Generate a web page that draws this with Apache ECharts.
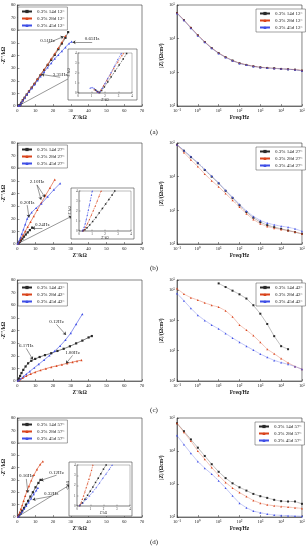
<!DOCTYPE html>
<html><head><meta charset="utf-8">
<script src="https://cdn.jsdelivr.net/npm/echarts@6/dist/echarts.min.js"></script>
<style>html,body{margin:0;padding:0;background:#fff}#c{width:308px;height:550px}</style>
</head><body><div id="c"></div>
<script>
// ---------- DATA ----------
const NAMES_A = ['0.3% 14d 12°','0.3% 28d 12°','0.3% 45d 12°'];
const NAMES_B = ['0.3% 14d 27°','0.3% 28d 27°','0.3% 45d 27°'];
const NAMES_C = ['0.3% 14d 42°','0.3% 28d 42°','0.3% 45d 42°'];
const NAMES_D = ['0.3% 14d 57°','0.3% 28d 57°','0.3% 45d 57°'];
const CAPTIONS = ['(a)','(b)','(c)','(d)'];

// Nyquist [Z'(kΩ), -Z''(kΩ)]
const NYQ_A_14 = [[0.6,0.2],[1.0,0.4],[1.4,0.6],[1.7,1.0],[2.2,2.5],[3.0,4.5],[4.0,6.5],[5.2,9],[6.5,11.5],[8,14.5],[9.6,17.5],[11.3,21],[13,24.5],[15,28.5],[17,32.5],[19,36.5],[21,40.5],[23,45],[25,49.5],[27,54],[28.5,58.5]];
const NYQ_A_28 = [[0.6,0.2],[1.0,0.4],[1.4,0.6],[1.7,1.0],[2.2,2.6],[3.0,4.6],[4.0,6.7],[5.2,9.2],[6.5,11.8],[8,14.8],[9.6,18],[11.3,21.5],[13,25],[15,29],[17,33],[19,37.5],[21,41.5],[23,46],[25,50.5],[27,55.5]];
const NYQ_A_45 = [[0.6,0.2],[1.0,0.4],[1.4,0.6],[1.7,1.0],[2.2,2.4],[3.0,4.3],[4.0,6.3],[5.2,8.8],[6.5,11.2],[8,14],[9.6,17],[11.3,20.2],[13,23.5],[15,27],[17,30.5],[19,34],[21,37.5],[23,40.5],[25,43.5],[27,46.5],[29,49.5],[30.5,51]];
const NYQ_B_14 = [[0.3,0.2],[0.8,0.8],[1.3,1.6],[2,2.8],[2.8,4.2],[3.7,5.8],[4.7,7.5],[5.8,9.2],[7,11],[8.3,13]];
const NYQ_B_28 = [[0.3,0.3],[0.8,1.2],[1.4,2.5],[2.2,4.5],[3.2,7],[4.4,10],[5.8,13.5],[7.4,17.5],[9.2,22],[11.2,27],[13.4,32.5],[15.8,38.5],[18.3,44.5],[21,51]];
const NYQ_B_45 = [[0.2,0.3],[0.6,1.2],[1.1,2.8],[1.7,5],[2.5,8],[3.4,11.5],[4.4,15.5],[5.5,20],[6.3,22],[8,25],[10.5,28.5],[13.5,32],[17,37.5],[20.5,43],[24,48]];
const NYQ_C_14 = [[0.3,0.5],[0.8,2],[1.5,4],[2.3,6.3],[3.3,8.8],[4.6,11.5],[6,14],[7.8,16],[10,17.5],[12.5,19],[15.5,20.5],[19,22],[22.5,23.8],[26,25.5],[29.5,27.5],[33,29.8],[36.5,32],[40,34.5],[41.8,35.6]];
const NYQ_C_28 = [[0.5,0.3],[1.5,1.2],[3,2.5],[5,4],[7.5,5.6],[10,7],[13,8.5],[16,9.8],[19,11],[22,12],[25,13],[28,14],[31,15],[33.5,15.8],[36,16.5]];
const NYQ_C_45 = [[0.3,0.3],[1,1],[2,2],[3.5,3.7],[5,5.5],[7,7.7],[9.5,10.5],[12,13.3],[15,16.7],[18,20.2],[21,23.8],[24,27.8],[27,32.5],[30,38],[33,45],[36.5,53]];
const NYQ_D_14 = [[0.4,0.4],[1,1.5],[1.8,3],[2.7,5],[3.7,7.3],[4.8,10],[6,13],[7.3,16.5],[8.7,20],[10.2,24],[11.8,27.5],[13,30]];
const NYQ_D_28 = [[0.3,0.5],[0.8,2],[1.4,4],[2,6.5],[2.7,9.5],[3.5,13],[4.4,17],[5.4,21],[6.5,25],[7.8,29.5],[9.3,34],[11,38.5],[12.8,42.5],[14.3,45]];
const NYQ_D_45 = [[0.4,0.3],[1,1.2],[1.8,2.6],[2.7,4.3],[3.8,6.5],[5,9],[6.3,11.8],[7.7,15],[9.2,18.5],[10.6,21.5],[11.5,23.5]];

// Insets (zoomed Nyquist near origin)
const INS_A_14 = [[1.3,0.3],[1.45,0.15],[1.6,0.05],[1.75,0.25],[1.95,0.6],[2.2,1.1],[2.45,1.6],[2.75,2.2],[3.05,2.8],[3.35,3.4],[3.6,3.95]];
const INS_A_28 = [[1.2,0.35],[1.4,0.15],[1.55,0.05],[1.7,0.3],[1.9,0.75],[2.15,1.3],[2.4,1.85],[2.65,2.45],[2.95,3.1],[3.25,3.75],[3.35,3.95]];
const INS_A_45 = [[0.9,0.5],[1.05,0.55],[1.2,0.45],[1.35,0.25],[1.45,0.1],[1.55,0.05],[1.65,0.2],[1.8,0.5],[2.0,0.95],[2.2,1.45],[2.45,2.05],[2.7,2.7],[2.95,3.35],[3.2,3.95]];
const INS_B_14 = [[0.3,0.02],[0.45,0.12],[0.62,0.32],[0.82,0.6],[1.05,0.95],[1.3,1.35],[1.55,1.8],[1.8,2.25],[2.05,2.7],[2.3,3.15],[2.55,3.6],[2.75,4.0]];
const INS_B_28 = [[0.3,0.02],[0.4,0.15],[0.52,0.4],[0.66,0.75],[0.8,1.15],[0.95,1.6],[1.1,2.05],[1.25,2.5],[1.4,3.0],[1.55,3.5],[1.7,4.0]];
const INS_B_45 = [[0.25,0.02],[0.32,0.15],[0.4,0.4],[0.48,0.75],[0.56,1.15],[0.64,1.6],[0.72,2.1],[0.8,2.6],[0.88,3.1],[0.96,3.6],[1.02,4.0]];
const INS_D_14 = [[0.2,0.05],[0.4,0.3],[0.6,0.65],[0.8,1.05],[1.0,1.45],[1.2,1.85],[1.4,2.3],[1.6,2.7],[1.8,3.15],[2.0,3.6],[2.2,4.0]];
const INS_D_28 = [[0.2,0.05],[0.3,0.3],[0.4,0.65],[0.5,1.0],[0.6,1.4],[0.7,1.8],[0.8,2.2],[0.9,2.6],[1.0,3.05],[1.1,3.5],[1.2,4.0]];
const INS_D_45 = [[0.2,0.05],[0.45,0.3],[0.7,0.65],[0.95,1.0],[1.2,1.4],[1.45,1.8],[1.7,2.25],[1.95,2.7],[2.2,3.15],[2.45,3.6],[2.65,4.0]];

// Bode |Z| (Ω·cm²) at these frequencies (Hz)
const FREQ = [0.1,0.215,0.464,1,2.15,4.64,10,21.5,46.4,100,215,464,1000,2150,4640,10000,21500,46400,100000];
const BODE_A_14 = [57500,35500,20900,12600,7940,5250,3720,2820,2240,1860,1660,1510,1410,1350,1320,1260,1230,1200,1120];
const BODE_A_28 = [59000,36000,21500,12900,8100,5300,3750,2850,2260,1880,1680,1530,1420,1370,1330,1280,1250,1210,1150];
const BODE_A_45 = [56000,35000,20500,12300,7800,5150,3650,2780,2200,1840,1640,1500,1400,1340,1310,1270,1240,1190,1110];
const BODE_B_14 = [89100,58900,38000,25100,15800,10000,6310,3800,2340,1410,891,603,447,363,316,282,251,224,200];
const BODE_B_28 = [89100,52500,31600,20000,12000,7590,5010,3160,2000,1260,794,537,398,331,295,269,251,229,200];
const BODE_B_45 = [89100,60300,39800,26300,16600,10500,6610,3980,2450,1510,955,661,501,417,372,339,316,282,240];
const BODE_C_14 = [null,null,null,null,null,null,166000,126000,95500,72400,52500,31600,16600,7590,3020,1410,1120,null,null];
const BODE_C_28 = [112000,74100,56200,46800,38000,31600,27500,20900,13200,7080,4790,3160,1910,1120,794,550,398,302,245];
const BODE_C_45 = [77600,44700,25100,14800,10000,7080,5250,3720,2630,1910,1410,1050,776,603,479,407,355,302,245];
const BODE_D_14 = [69200,39800,22400,12600,7080,3980,2340,1510,1050,794,631,501,427,380,331,302,295,295,251];
const BODE_D_28 = [69200,37200,20000,10000,5620,3160,1820,1120,759,550,417,316,263,234,219,209,200,191,182];
const BODE_D_45 = [29500,15800,8510,4790,3020,2000,1260,759,437,263,191,151,135,123,115,112,110,107,105];

// Frequency annotations: [text, textX, textY, arrowToX, arrowToY]
const ANN_A = [['0.51Hz',17,52,26,55],['0.65Hz',42,53,31,50.5],['3.35Hz',24,25,13.5,25]];
const ANN_B = [['2.10Hz',11,49,13.3,35],['2.10Hz',null,null,15.5,37],['0.20Hz',5.5,33,6.5,21],['0.24Hz',14,15,8.3,12.5]];
const ANN_C = [['6.17Hz',5,28,8.7,17],['1.80Hz',31,22.5,27.3,13.8],['0.12Hz',22,47,27.3,36.5]];
const ANN_D = [['0.16Hz',5,33,5.9,19.5],['0.12Hz',22,36,13,29.5],['0.32Hz',19,19,8.5,14]];

// ---------- CHART ----------
const FONT = 'Liberation Serif';
const COLORS = ['#2a2a2a','#d9441c','#3f4fe6'];
const SYMS = ['rect','triangle','triangle'];
const SUP = {'-':'⁻','0':'⁰','1':'¹','2':'²','3':'³','4':'⁴','5':'⁵','6':'⁶'};
const pow10 = v => '10' + String(Math.round(Math.log10(v))).split('').map(c=>SUP[c]).join('');

const ROW_TOP = [5,143,280,418];
const ROW_H = [101,101,101,99];
const L = {left:16,width:126}, R = {left:177,width:125};

const grids=[], xAxes=[], yAxes=[], series=[], legends=[], graphics=[];

function axisCommon(fs){
  return {
    axisLine:{show:true,onZero:false,lineStyle:{color:'#333',width:0.6}},
    axisTick:{show:true,inside:true,length:2,lineStyle:{color:'#333',width:0.5}},
    axisLabel:{fontSize:fs,color:'#222',fontFamily:FONT,margin:2},
    splitLine:{show:false},
    nameTextStyle:{fontSize:fs+1,fontFamily:FONT,fontWeight:'bold',color:'#222'}
  };
}

function addNyq(row, names, dataArr, ann, insetLine){
  const gi = grids.length;
  grids.push({left:L.left,top:ROW_TOP[row],width:L.width,height:ROW_H[row],show:true,borderColor:'#333',borderWidth:0.6,backgroundColor:'transparent'});
  xAxes.push(Object.assign(axisCommon(4.5),{type:'value',gridIndex:gi,min:0,max:70,interval:10,name:"Z'/kΩ",nameLocation:'middle',nameGap:9}));
  yAxes.push(Object.assign(axisCommon(4.5),{type:'value',gridIndex:gi,min:0,max:80,interval:10,name:"-Z''/kΩ",nameLocation:'middle',nameGap:8}));
  dataArr.forEach((d,k)=>{
    const s = {type:'line',name:names[k],xAxisIndex:gi,yAxisIndex:gi,data:d,symbol:SYMS[k],symbolSize:2.2,
      lineStyle:{width:0.6,color:COLORS[k]},itemStyle:{color:COLORS[k]},z:2};
    if(k===0){
      const mp=[], ml=[];
      ann.forEach(a=>{
        if(a[1]!=null) mp.push({coord:[a[1],a[2]],symbol:'circle',symbolSize:0,label:{show:true,position:'inside',formatter:a[0],fontSize:5,fontFamily:FONT,color:'#222'}});
      });
      let lastText=null;
      ann.forEach(a=>{
        const from = a[1]!=null ? [a[1],a[2]-2.2] : lastText;
        if(a[1]!=null) lastText=[a[1],a[2]-2.2];
        ml.push([{coord:from,symbol:'none'},{coord:[a[3],a[4]],symbol:'arrow'}]);
      });
      if(insetLine) ml.push([{coord:insetLine[0],symbol:'none'},{coord:insetLine[1],symbol:'arrow'}]);
      s.markPoint={silent:true,data:mp,animation:false};
      s.markLine={silent:true,symbolSize:3,lineStyle:{color:'#333',width:0.5,type:'solid'},label:{show:false},data:ml,animation:false};
    }
    series.push(s);
  });
}

function addBode(row, names, dataArr, ymax){
  const gi = grids.length;
  grids.push({left:R.left,top:ROW_TOP[row],width:R.width,height:ROW_H[row],show:true,borderColor:'#333',borderWidth:0.6,backgroundColor:'transparent'});
  xAxes.push(Object.assign(axisCommon(4.5),{type:'log',logBase:10,gridIndex:gi,min:0.1,max:100000,name:'Freq/Hz',nameLocation:'middle',nameGap:9,axisLabel:{fontSize:4.5,color:'#222',fontFamily:FONT,margin:2,formatter:pow10}}));
  yAxes.push(Object.assign(axisCommon(4.5),{type:'log',logBase:10,gridIndex:gi,min:100,max:ymax,splitNumber:3,name:'|Z|/(Ωcm²)',nameLocation:'middle',nameGap:10,axisLabel:{fontSize:4.5,color:'#222',fontFamily:FONT,margin:2,formatter:pow10}}));
  dataArr.forEach((vals,k)=>{
    const d = FREQ.map((f,i)=> vals[i]==null?null:[f,vals[i]]).filter(p=>p);
    series.push({type:'line',name:names[k],xAxisIndex:gi,yAxisIndex:gi,data:d,symbol:SYMS[k],symbolSize:2,
      lineStyle:{width:0.6,color:COLORS[k],type:'dotted'},itemStyle:{color:COLORS[k]},z:2});
  });
}

function addInset(box, inner, names, dataArr){
  graphics.push({type:'rect',z:50,shape:{x:box[0],y:box[1],width:box[2]-box[0],height:box[3]-box[1]},style:{fill:'#fff',stroke:'#444',lineWidth:0.6}});
  const gi = grids.length;
  grids.push({left:inner[0],top:inner[1],width:inner[2]-inner[0],height:inner[3]-inner[1],show:true,borderColor:'#555',borderWidth:0.4,backgroundColor:'#fff',z:60});
  const ax = fs=>({axisLine:{show:true,onZero:false,lineStyle:{color:'#444',width:0.4}},axisTick:{show:true,inside:true,length:1.5,lineStyle:{width:0.4}},axisLabel:{fontSize:3.2,color:'#333',fontFamily:FONT,margin:1.5},splitLine:{show:false},nameTextStyle:{fontSize:3.2,fontFamily:FONT,color:'#333'},z:61});
  xAxes.push(Object.assign(ax(),{type:'value',gridIndex:gi,min:0,max:4,interval:1,name:"Z'/kΩ",nameLocation:'middle',nameGap:5}));
  yAxes.push(Object.assign(ax(),{type:'value',gridIndex:gi,min:0,max:4,interval:1,name:"-Z''/kΩ",nameLocation:'middle',nameGap:4}));
  dataArr.forEach((d,k)=>{
    series.push({type:'line',name:names[k],xAxisIndex:gi,yAxisIndex:gi,data:d,symbol:SYMS[k],symbolSize:1.5,
      lineStyle:{width:0.5,color:COLORS[k],type:'dashed'},itemStyle:{color:COLORS[k]},z:62});
  });
}

function addLegend(left, top, names){
  legends.push({left:left,top:top,orient:'vertical',data:names,itemWidth:10,itemHeight:4,itemGap:2,padding:[2,3],
    borderColor:'#444',borderWidth:0.5,backgroundColor:'#fff',z:70,
    textStyle:{fontSize:5,fontFamily:FONT,color:'#222'}});
}

addNyq(0, NAMES_A, [NYQ_A_14,NYQ_A_28,NYQ_A_45], ANN_A, [[1,0.5],[30.5,23]]);
addBode(0, NAMES_A, [BODE_A_14,BODE_A_28,BODE_A_45], 100000);
addNyq(1, NAMES_B, [NYQ_B_14,NYQ_B_28,NYQ_B_45], ANN_B, [[0.5,0.5],[30.5,22]]);
addBode(1, NAMES_B, [BODE_B_14,BODE_B_28,BODE_B_45], 100000);
addNyq(2, NAMES_C, [NYQ_C_14,NYQ_C_28,NYQ_C_45], ANN_C, null);
addBode(2, NAMES_C, [BODE_C_14,BODE_C_28,BODE_C_45], 215000);
addNyq(3, NAMES_D, [NYQ_D_14,NYQ_D_28,NYQ_D_45], ANN_D, [[0.5,0.5],[29.5,26]]);
addBode(3, NAMES_D, [BODE_D_14,BODE_D_28,BODE_D_45], 100000);

addInset([68,49,137,100],[78,53,132,93], NAMES_A, [INS_A_14,INS_A_28,INS_A_45]);
addInset([71,188,134,239],[79,191,131,231], NAMES_B, [INS_B_14,INS_B_28,INS_B_45]);
addInset([69,462,132,516],[77,465,130,506], NAMES_D, [INS_D_14,INS_D_28,INS_D_45]);

addLegend(18,7,NAMES_A); addLegend(256,9,NAMES_A);
addLegend(18,145,NAMES_B); addLegend(256,147,NAMES_B);
addLegend(18,283,NAMES_C); addLegend(256,283,NAMES_C);
addLegend(18,420,NAMES_D); addLegend(255,422,NAMES_D);

const CAP_Y = [132,268,410,542];
CAPTIONS.forEach((t,i)=>graphics.push({type:'text',z:80,x:154,y:CAP_Y[i],style:{text:t,font:'7px "Liberation Serif"',fill:'#222',textAlign:'center',textVerticalAlign:'middle'}}));

const chart = echarts.init(document.getElementById('c'),null,{renderer:'canvas'});
chart.setOption({animation:false,backgroundColor:'#fff',grid:grids,xAxis:xAxes,yAxis:yAxes,series:series,legend:legends,graphic:{elements:graphics}});
</script></body></html>
